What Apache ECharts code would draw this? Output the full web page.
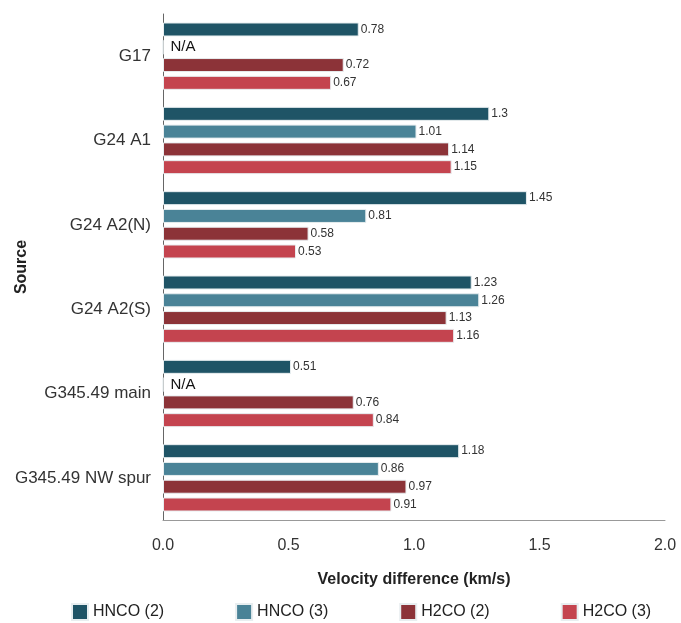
<!DOCTYPE html>
<html>
<head>
<meta charset="utf-8">
<script src="https://cdn.jsdelivr.net/npm/echarts@6/dist/echarts.min.js"></script>
<style>
  html, body { margin: 0; padding: 0; background: #fff; }
  #chart { width: 681px; height: 623px; }
</style>
</head>
<body>
<div id="chart"></div>
<script>
// sources, top to bottom
const sources = ["G17", "G24 A1", "G24 A2(N)", "G24 A2(S)", "G345.49 main", "G345.49 NW spur"];

// velocity differences (km/s), null = N/A
const hnco2 = [0.78, 1.3, 1.45, 1.23, 0.51, 1.18];
const hnco3 = [null, 1.01, 0.81, 1.26, null, 0.86];
const h2co2 = [0.72, 1.14, 0.58, 1.13, 0.76, 0.97];
const h2co3 = [0.67, 1.15, 0.53, 1.16, 0.84, 0.91];

const seriesNames = ["HNCO (2)", "HNCO (3)", "H2CO (2)", "H2CO (3)"];
const colors = ["#1f5466", "#4a8397", "#8c3338", "#c4444f"];

const xTicks = [0, 0.5, 1.0, 1.5, 2.0];

const FONT = "'Liberation Sans', Arial, sans-serif";

// N/A entries are drawn as zero-length bars carrying a text label
function toData(arr) {
  return arr.map(v => {
    if (v == null) {
      return {
        value: 0,
        label: {
          show: true,
          formatter: "N/A",
          fontSize: 15,
          color: "#111",
          distance: 7
        }
      };
    }
    return v;
  });
}

const chart = echarts.init(document.getElementById("chart"));

const option = {
  animation: false,
  textStyle: { fontFamily: FONT },
  grid: { left: 163, right: 16, top: 14, bottom: 103, outerBoundsMode: "none", containLabel: false },
  legend: {
    top: 598,
    left: 66,
    width: 640,
    itemWidth: 16,
    itemHeight: 16,
    itemGap: 71,
    itemTextGap: 3,
    icon: "rect",
    textStyle: { fontSize: 16, color: "#222", fontFamily: FONT },
    data: seriesNames
  },
  xAxis: {
    type: "value",
    min: 0,
    max: 2,
    interval: 0.5,
    name: "Velocity difference (km/s)",
    nameLocation: "middle",
    nameGap: 52,
    nameMoveOverlap: false,
    nameTextStyle: { fontSize: 16, fontWeight: "bold", color: "#222", fontFamily: FONT },
    axisLine: { show: true, lineStyle: { color: "#999", width: 1 } },
    axisTick: { show: false },
    splitLine: { show: false },
    axisLabel: {
      fontSize: 16,
      color: "#333",
      margin: 18,
      formatter: v => xTicks.includes(v) ? v.toFixed(1) : ""
    }
  },
  yAxis: {
    type: "category",
    inverse: true,
    data: sources,
    name: "Source",
    nameLocation: "middle",
    nameGap: 133,
    nameRotate: 90,
    nameMoveOverlap: false,
    nameTextStyle: { fontSize: 16, fontWeight: "bold", color: "#222", fontFamily: FONT },
    axisLine: { show: true, lineStyle: { color: "#666", width: 1 } },
    axisTick: { show: false },
    axisLabel: { fontSize: 17, color: "#333", margin: 12 }
  },
  series: [hnco2, hnco3, h2co2, h2co3].map((arr, i) => ({
    name: seriesNames[i],
    type: "bar",
    data: toData(arr),
    barWidth: 14,
    barGap: "27%",
    barCategoryGap: "22%",
    itemStyle: { color: colors[i], borderColor: "#e8eef0", borderWidth: 1 },
    label: {
      show: true,
      position: "right",
      distance: 2,
      fontSize: 12,
      color: "#333",
      fontFamily: FONT
    }
  }))
};

chart.setOption(option);
window.addEventListener("resize", chart.resize);
</script>
</body>
</html>
